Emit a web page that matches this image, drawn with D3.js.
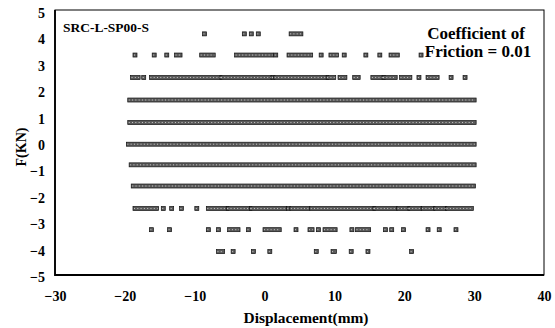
<!DOCTYPE html>
<html>
<head>
<meta charset="utf-8">
<script src="https://cdn.jsdelivr.net/npm/d3@7"></script>
<style>
  html, body { margin: 0; padding: 0; background: #fff; }
  svg text { font-family: "Liberation Serif", "Times New Roman", serif; font-weight: bold; fill: #000; }
</style>
</head>
<body>
<svg id="chart" width="555" height="328"></svg>
<script>
// ---- data ----
const xTicks = [-30, -20, -10, 0, 10, 20, 30, 40];
const yTicks = [-5, -4, -3, -2, -1, 0, 1, 2, 3, 4, 5];

// friction force levels (kN) of each recorded row
const levels = [4.2, 3.4, 2.55, 1.7, 0.85, 0.03, -0.75, -1.55, -2.4, -3.2, -4.03];

// recorded displacement runs [from, to] (mm) on each level; single points have from == to
const run_4_2  = [[-8.6,-8.6],[-2.9,-2.9],[-1.9,-1.9],[-0.9,-0.9],[3.8,5.2]];
const run_3_4  = [[-18.55,-18.55],[-15.8,-15.8],[-14.0,-14.0],[-12.6,-12.1],[-9.0,-7.35],[-4.0,1.0],[1.6,1.6],
                  [3.5,6.6],[8.1,8.1],[9.5,10.3],[11.4,11.4],[14.5,14.5],[16.5,16.5],[18.1,19.0],[22.4,22.4]];
const run_2_55 = [[-18.9,-18.1],[-17.3,-17.3],[-16.2,-6.4],[-6.1,0.8],[1.2,1.2],[1.6,8.9],[9.1,9.9],[10.8,11.5],
                  [12.9,13.4],[15.5,17.0],[17.1,18.7],[19.6,20.8],[22.1,22.1],[23.4,24.7],[26.7,26.7],[28.7,28.7]];
const run_1_7  = [[-19.3,30.0]];
const run_0_85 = [[-19.3,30.0]];
const run_0_03 = [[-19.5,30.0]];
const run_m0_75 = [[-19.1,30.0]];
const run_m1_55 = [[-18.8,29.9]];
const run_m2_4 = [[-18.55,-15.45],[-14.5,-14.5],[-13.3,-13.3],[-11.9,-11.9],[-9.7,-9.7],[-8.05,-5.4],[-5.2,-2.1],
                  [-1.85,2.9],[3.4,3.4],[3.9,6.2],[6.75,15.6],[15.8,18.7],[19.2,20.5],[20.8,22.2],[22.7,24.1],
                  [24.5,25.8],[26.2,29.6]];
const run_m3_2 = [[-16.2,-16.2],[-13.6,-13.6],[-8.05,-8.05],[-6.6,-6.6],[-5.0,-3.8],[-2.3,-2.3],[0.06,2.1],
                  [4.5,4.5],[6.5,6.8],[7.7,7.7],[8.65,10.1],[12.5,12.5],[13.3,14.9],[17.3,17.3],[18.2,18.2],
                  [19.9,19.9],[23.4,23.4],[25.0,25.0],[27.4,27.4]];
const run_m4_03 = [[-6.6,-6.0],[-4.5,-4.5],[-1.6,-1.6],[0.75,0.75],[7.4,7.4],[9.8,10.0],[12.4,12.4],[14.8,14.8],[21.05,21.05]];

const runs = [run_4_2, run_3_4, run_2_55, run_1_7, run_0_85, run_0_03, run_m0_75, run_m1_55, run_m2_4, run_m3_2, run_m4_03];

const chartLabel = "SRC-L-SP00-S";
const noteLines = ["Coefficient of", "Friction = 0.01"];
const xTitle = "Displacement(mm)";
const yTitle = "F(KN)";

// ---- drawing ----
const svg = d3.select("#chart");
const box = {left: 55, right: 544, top: 10, bottom: 275};

const x = d3.scaleLinear().domain([-30, 40]).range([box.left, box.right]);
const y = d3.scaleLinear().domain([-5, 5]).range([277.3, 12.7]);

// data marks
const markSize = 4;
const rows = svg.append("g").attr("class", "data");
levels.forEach((lv, i) => {
  const g = rows.append("g");
  g.selectAll("rect")
    .data(runs[i])
    .join("rect")
    .attr("x", d => x(d[0]) - markSize / 2)
    .attr("y", y(lv) - markSize / 2)
    .attr("width", d => x(d[1]) - x(d[0]) + markSize)
    .attr("height", markSize)
    .attr("fill", "#5a5a5a")
    .attr("stroke", "#111")
    .attr("stroke-width", 0.7);
  // speckled marker texture
  g.selectAll("line")
    .data(runs[i])
    .join("line")
    .attr("x1", d => x(d[0]) - 1)
    .attr("x2", d => x(d[1]) + 1)
    .attr("y1", y(lv))
    .attr("y2", y(lv))
    .attr("stroke", "#c8c8c8")
    .attr("stroke-width", 1)
    .attr("stroke-dasharray", "1,2.3");
});

// plot box
svg.append("rect")
  .attr("x", box.left).attr("y", box.top)
  .attr("width", box.right - box.left).attr("height", box.bottom - box.top)
  .attr("fill", "none").attr("stroke", "#000").attr("stroke-width", 1);
svg.append("path")
  .attr("d", `M${box.left},${box.top}V${box.bottom}H${box.right}`)
  .attr("fill", "none").attr("stroke", "#000").attr("stroke-width", 1.8);

// axes (labels only)
const yAxis = svg.append("g")
  .attr("transform", `translate(${box.left},0)`)
  .call(d3.axisLeft(y).tickValues(yTicks).tickSize(0).tickPadding(10).tickFormat(d3.format("d")));
yAxis.select(".domain").remove();
yAxis.selectAll("text").style("font-size", "14px").style("font-family", "Liberation Serif").style("font-weight", "bold");

const xAxis = svg.append("g")
  .attr("transform", `translate(0,${box.bottom})`)
  .call(d3.axisBottom(x).tickValues(xTicks).tickSize(0).tickPadding(16).tickFormat(d3.format("d")));
xAxis.select(".domain").remove();
xAxis.selectAll("text").style("font-size", "14px").style("font-family", "Liberation Serif").style("font-weight", "bold");

// titles
svg.append("text")
  .attr("x", 306).attr("y", 323)
  .attr("text-anchor", "middle")
  .attr("textLength", 125).attr("lengthAdjust", "spacingAndGlyphs")
  .style("font-size", "14px")
  .text(xTitle);

svg.append("text")
  .attr("transform", "translate(26,147) rotate(-90)")
  .attr("text-anchor", "middle")
  .style("font-size", "14px")
  .text(yTitle);

svg.append("text")
  .attr("x", 63).attr("y", 31.5)
  .attr("textLength", 86).attr("lengthAdjust", "spacingAndGlyphs")
  .style("font-size", "13px")
  .text(chartLabel);

svg.append("text")
  .attr("x", 476).attr("y", 39)
  .attr("text-anchor", "middle")
  .style("font-size", "17px")
  .text(noteLines[0]);
svg.append("text")
  .attr("x", 478).attr("y", 57.3)
  .attr("text-anchor", "middle")
  .style("font-size", "17px")
  .text(noteLines[1]);
</script>
</body>
</html>
